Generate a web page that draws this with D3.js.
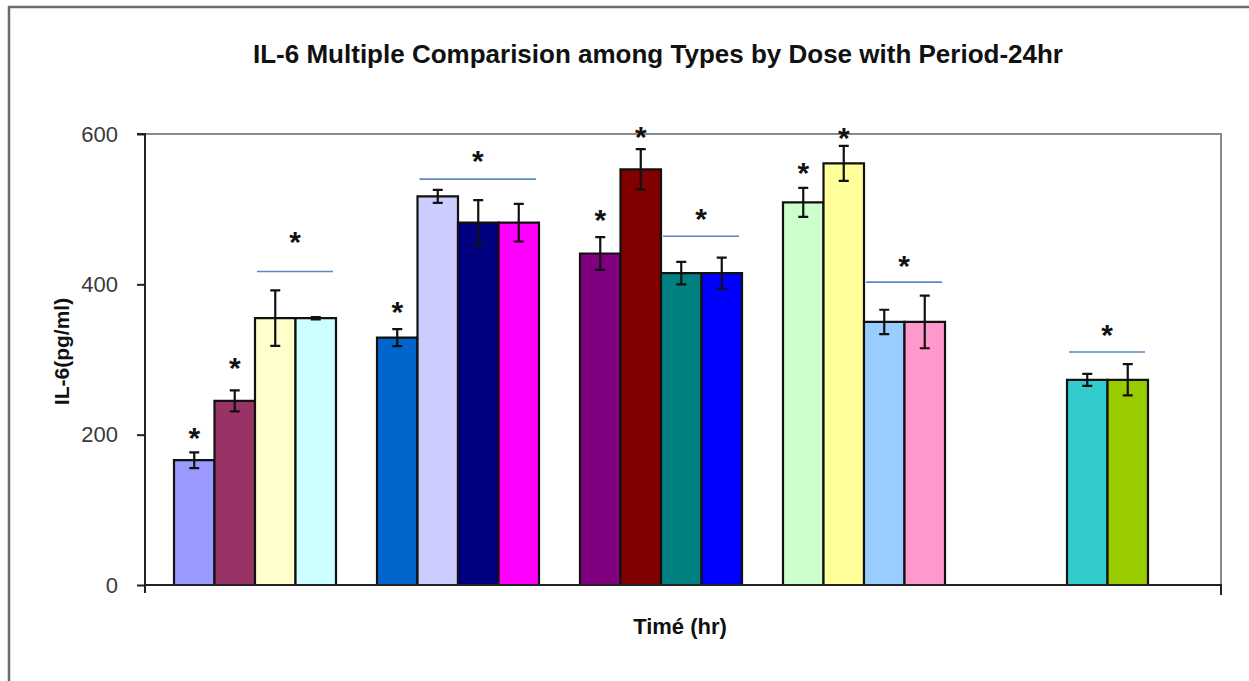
<!DOCTYPE html>
<html>
<head>
<meta charset="utf-8">
<script src="https://cdn.jsdelivr.net/npm/d3@7"></script>
<style>
  html, body { margin: 0; padding: 0; background: #fff; }
  svg { display: block; font-family: Arial, "Liberation Sans", sans-serif; }
</style>
</head>
<body>
<svg id="chart" width="1249" height="681"></svg>
<script>
// IL-6 concentration (pg/ml), 24 hr period: five groups of four bars each
const groups = ["G1", "G2", "G3", "G4", "G5"];
const series = [0, 1, 2, 3];
const yTicks = [0, 200, 400, 600];

const means = [
  [166, 245, 355, 355],
  [329, 517, 482, 482],
  [441, 553, 415, 415],
  [509, 561, 350, 350],
  [0, 0, 273, 273]
];
const errors = [
  [10.5, 14, 37, 1.5],
  [11.3, 8.6, 30, 25],
  [21.7, 26.8, 15, 20.6],
  [19.3, 23.3, 16.2, 35],
  [0, 0, 8, 20.8]
];
const fills = [
  ["#9999FF", "#993366", "#FFFFCC", "#CCFFFF"],
  ["#0066CC", "#CCCCFF", "#000080", "#FF00FF"],
  ["#800080", "#800000", "#008080", "#0000FF"],
  ["#CCFFCC", "#FFFF99", "#99CCFF", "#FF99CC"],
  ["#FFFFFF", "#FFFFFF", "#33CCCC", "#99CC00"]
];

// significance stars over single bars (level in pg/ml)
const barStars = [
  { g: 0, s: 0, level: 203.5 },
  { g: 0, s: 1, level: 295.7 },
  { g: 1, s: 0, level: 370 },
  { g: 2, s: 0, level: 493.5 },
  { g: 2, s: 1, level: 603 },
  { g: 3, s: 0, level: 555 },
  { g: 3, s: 1, level: 601.7 }
];
// significance brackets over a run of bars
const groupStars = [
  { g: 0, from: 2, to: 3, line: 417, star: 464 },
  { g: 1, from: 1, to: 3, line: 540, star: 572 },
  { g: 2, from: 2, to: 3, line: 464, star: 495 },
  { g: 3, from: 2, to: 3, line: 403, star: 432 },
  { g: 4, from: 2, to: 3, line: 310, star: 340 }
];

const svg = d3.select("#chart");

// outer chart frame
svg.append("rect")
  .attr("x", 9).attr("y", 7).attr("width", 1260).attr("height", 700)
  .attr("fill", "none").attr("stroke", "#6b6b6b").attr("stroke-width", 2.5);

const plot = { left: 145, right: 1221, top: 134, bottom: 585 };

const y = d3.scaleLinear().domain([0, 600]).range([plot.bottom, plot.top]);
const x0 = d3.scaleBand().domain(groups).range([153.5, 1168.5]).padding(0);
const x1 = d3.scaleBand().domain(series).range([20.5, x0.bandwidth() - 20.5]).padding(0);

// plot area border (top and right)
svg.append("path")
  .attr("d", `M${plot.left},${plot.top}H${plot.right}V${plot.bottom + 10}`)
  .attr("fill", "none").attr("stroke", "#8a8a8a").attr("stroke-width", 2);

// bars
const rows = [];
groups.forEach((g, gi) => series.forEach(si => rows.push({ g, gi, si, v: means[gi][si], e: errors[gi][si], c: fills[gi][si] })));

const barX = d => x0(d.g) + x1(d.si);
const bw = x1.bandwidth();

svg.append("g").selectAll("path")
  .data(rows)
  .join("path")
  .attr("d", d => `M${barX(d)},${y(0)}V${y(d.v)}H${barX(d) + bw}V${y(0)}Z`)
  .attr("fill", d => d.c)
  .attr("stroke", "#111")
  .attr("stroke-width", 2.2);

// error bars
const eb = svg.append("g").attr("stroke", "#111").attr("stroke-width", 2.2).attr("fill", "none");
eb.selectAll("path")
  .data(rows.filter(d => d.e > 0))
  .join("path")
  .attr("d", d => {
    const cx = barX(d) + bw / 2, hi = y(d.v + d.e), lo = y(d.v - d.e), cw = 5;
    return `M${cx},${hi}V${lo}M${cx - cw},${hi}H${cx + cw}M${cx - cw},${lo}H${cx + cw}`;
  });

// y axis
const yAxis = svg.append("g")
  .attr("transform", `translate(${plot.left},0)`)
  .call(d3.axisLeft(y).tickValues(yTicks).tickSize(8).tickPadding(19).tickFormat(d3.format("d")));
yAxis.select(".domain").attr("stroke", "#222").attr("stroke-width", 2).attr("d", `M-8,${plot.top}H0V${plot.bottom}`);
yAxis.selectAll(".tick line").attr("stroke", "#222").attr("stroke-width", 2);
yAxis.selectAll(".tick text").attr("font-size", 22).attr("fill", "#3a3a3a").attr("font-family", "Arial, 'Liberation Sans', sans-serif");

// x axis line with end ticks
svg.append("path")
  .attr("d", `M${plot.left},${plot.bottom + 8}V${plot.bottom}H${plot.right}V${plot.bottom + 10}`)
  .attr("fill", "none").attr("stroke", "#222").attr("stroke-width", 2);

// significance marks
const starSize = 30;
const starDy = 0.52 * starSize;
svg.append("g").selectAll("text")
  .data(barStars)
  .join("text")
  .attr("x", d => x0(groups[d.g]) + x1(d.s) + bw / 2)
  .attr("y", d => y(d.level) + starDy)
  .attr("text-anchor", "middle")
  .attr("font-size", starSize).attr("font-weight", "bold").attr("fill", "#111")
  .text("*");

const bracketX = d => [x0(groups[d.g]) + x1(d.from) + 2, x0(groups[d.g]) + x1(d.to) + bw - 3];
svg.append("g").selectAll("line")
  .data(groupStars)
  .join("line")
  .attr("x1", d => bracketX(d)[0]).attr("x2", d => bracketX(d)[1])
  .attr("y1", d => y(d.line)).attr("y2", d => y(d.line))
  .attr("stroke", "#5b87c8").attr("stroke-width", 1.6);
svg.append("g").selectAll("text")
  .data(groupStars)
  .join("text")
  .attr("x", d => d3.mean(bracketX(d)))
  .attr("y", d => y(d.star) + starDy)
  .attr("text-anchor", "middle")
  .attr("font-size", starSize).attr("font-weight", "bold").attr("fill", "#111")
  .text("*");

// titles
svg.append("text")
  .attr("x", 658).attr("y", 63)
  .attr("text-anchor", "middle")
  .attr("font-size", 26).attr("font-weight", "bold").attr("fill", "#111")
  .text("IL-6 Multiple Comparision among Types by Dose with Period-24hr");

svg.append("text")
  .attr("transform", `translate(69,${(plot.top + plot.bottom) / 2 - 8}) rotate(-90)`)
  .attr("text-anchor", "middle")
  .attr("font-size", 21).attr("font-weight", "bold").attr("fill", "#111")
  .text("IL-6(pg/ml)");

svg.append("text")
  .attr("x", 680).attr("y", 634)
  .attr("text-anchor", "middle")
  .attr("font-size", 22).attr("font-weight", "bold").attr("fill", "#111")
  .text("Timé (hr)");
</script>
</body>
</html>
